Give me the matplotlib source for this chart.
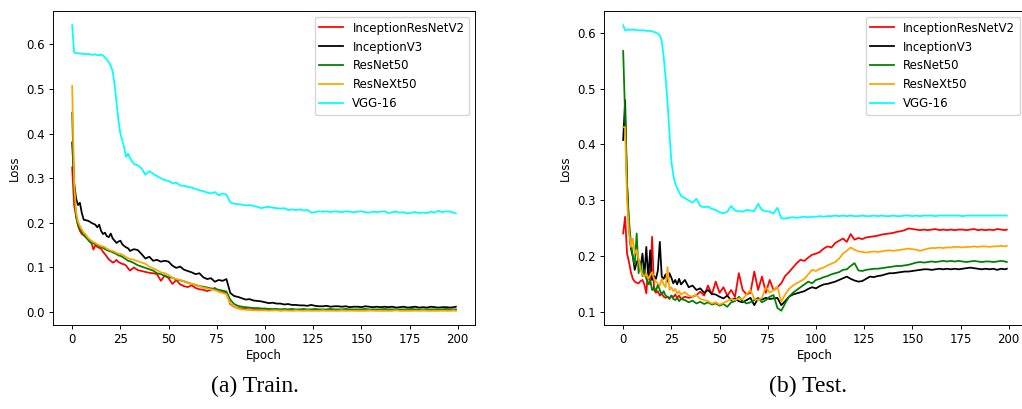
import matplotlib
matplotlib.use("Agg")
import matplotlib.pyplot as plt

# epoch index of each stored value: every epoch up to 29, then every 2nd epoch
epochs = list(range(30)) + list(range(30, 200, 2)) + [199]

names = ["InceptionResNetV2", "InceptionV3", "ResNet50", "ResNeXt50", "VGG-16"]
colors = ["red", "black", "green", "orange", "cyan"]

# ---- train loss ----
train_irv2 = [0.324, 0.240, 0.215, 0.195, 0.182, 0.175, 0.172, 0.168, 0.165, 0.160,
              0.155, 0.140, 0.150, 0.146, 0.144, 0.142, 0.135, 0.130, 0.124, 0.118,
              0.115, 0.111, 0.113, 0.117, 0.112, 0.110, 0.108, 0.107, 0.104, 0.098,
              0.093, 0.100, 0.094, 0.092, 0.090, 0.088, 0.087, 0.085, 0.070, 0.082,
              0.076, 0.063, 0.072, 0.062, 0.058, 0.056, 0.060, 0.054, 0.051, 0.050,
              0.047, 0.050, 0.054, 0.046, 0.045, 0.043, 0.018, 0.012, 0.009, 0.008,
              0.007, 0.006, 0.006, 0.005, 0.005, 0.005, 0.005, 0.004, 0.005, 0.004,
              0.004, 0.005, 0.004, 0.004, 0.005, 0.004, 0.004, 0.004, 0.005, 0.004,
              0.004, 0.004, 0.005, 0.004, 0.004, 0.004, 0.004, 0.005, 0.004, 0.004,
              0.004, 0.004, 0.004, 0.005, 0.004, 0.004, 0.004, 0.004, 0.004, 0.005,
              0.004, 0.004, 0.004, 0.004, 0.005, 0.004, 0.004, 0.004, 0.004, 0.004,
              0.004, 0.005, 0.004, 0.004, 0.004, 0.004]
train_iv3 = [0.380, 0.290, 0.255, 0.240, 0.245, 0.222, 0.207, 0.206, 0.205, 0.203,
             0.200, 0.198, 0.196, 0.190, 0.196, 0.182, 0.175, 0.178, 0.170, 0.168,
             0.176, 0.165, 0.160, 0.155, 0.158, 0.160, 0.152, 0.148, 0.145, 0.143,
             0.137, 0.141, 0.139, 0.130, 0.120, 0.124, 0.115, 0.117, 0.113, 0.115,
             0.113, 0.104, 0.099, 0.102, 0.095, 0.092, 0.089, 0.085, 0.087, 0.078,
             0.074, 0.076, 0.068, 0.072, 0.070, 0.074, 0.043, 0.036, 0.034, 0.031,
             0.028, 0.029, 0.026, 0.025, 0.024, 0.022, 0.020, 0.021, 0.019, 0.019,
             0.017, 0.018, 0.016, 0.016, 0.015, 0.015, 0.014, 0.016, 0.014, 0.013,
             0.013, 0.014, 0.012, 0.013, 0.013, 0.012, 0.013, 0.011, 0.012, 0.012,
             0.011, 0.013, 0.012, 0.011, 0.012, 0.011, 0.012, 0.011, 0.012, 0.010,
             0.011, 0.012, 0.010, 0.011, 0.012, 0.010, 0.011, 0.010, 0.012, 0.011,
             0.010, 0.011, 0.011, 0.010, 0.011, 0.012]
train_r50 = [0.447, 0.270, 0.215, 0.195, 0.186, 0.180, 0.174, 0.168, 0.163, 0.158,
             0.155, 0.154, 0.152, 0.150, 0.148, 0.146, 0.144, 0.141, 0.139, 0.137,
             0.136, 0.134, 0.132, 0.130, 0.127, 0.126, 0.124, 0.121, 0.118, 0.115,
             0.114, 0.110, 0.105, 0.102, 0.099, 0.096, 0.093, 0.087, 0.085, 0.081,
             0.078, 0.077, 0.073, 0.071, 0.069, 0.066, 0.063, 0.061, 0.058, 0.057,
             0.055, 0.053, 0.052, 0.050, 0.048, 0.046, 0.028, 0.018, 0.014, 0.012,
             0.011, 0.010, 0.009, 0.009, 0.008, 0.008, 0.007, 0.007, 0.007, 0.006,
             0.007, 0.006, 0.007, 0.006, 0.006, 0.007, 0.006, 0.006, 0.007, 0.006,
             0.006, 0.006, 0.007, 0.006, 0.006, 0.006, 0.007, 0.006, 0.006, 0.006,
             0.006, 0.007, 0.006, 0.006, 0.006, 0.006, 0.007, 0.006, 0.006, 0.006,
             0.006, 0.006, 0.006, 0.007, 0.006, 0.006, 0.006, 0.006, 0.006, 0.006,
             0.006, 0.006, 0.007, 0.006, 0.006, 0.006]
train_rx50 = [0.507, 0.290, 0.225, 0.203, 0.193, 0.185, 0.178, 0.174, 0.168, 0.163,
              0.160, 0.157, 0.155, 0.152, 0.150, 0.148, 0.147, 0.145, 0.142, 0.140,
              0.138, 0.137, 0.135, 0.133, 0.131, 0.130, 0.129, 0.126, 0.123, 0.121,
              0.119, 0.117, 0.114, 0.111, 0.108, 0.102, 0.098, 0.094, 0.089, 0.087,
              0.083, 0.077, 0.074, 0.072, 0.069, 0.066, 0.063, 0.061, 0.058, 0.055,
              0.053, 0.051, 0.049, 0.046, 0.043, 0.040, 0.020, 0.012, 0.008, 0.006,
              0.005, 0.005, 0.004, 0.004, 0.004, 0.004, 0.003, 0.004, 0.004, 0.003,
              0.004, 0.003, 0.003, 0.004, 0.003, 0.003, 0.004, 0.003, 0.003, 0.003,
              0.004, 0.003, 0.003, 0.003, 0.003, 0.004, 0.003, 0.003, 0.003, 0.003,
              0.003, 0.003, 0.004, 0.003, 0.003, 0.003, 0.003, 0.003, 0.003, 0.004,
              0.003, 0.003, 0.003, 0.003, 0.003, 0.003, 0.004, 0.003, 0.003, 0.003,
              0.003, 0.003, 0.003, 0.003, 0.004, 0.003]
train_vgg = [0.643, 0.582, 0.581, 0.580, 0.580, 0.579, 0.579, 0.578, 0.579, 0.578,
             0.577, 0.577, 0.578, 0.576, 0.576, 0.577, 0.575, 0.571, 0.566, 0.560,
             0.552, 0.540, 0.510, 0.470, 0.430, 0.400, 0.385, 0.368, 0.348, 0.355,
             0.345, 0.332, 0.329, 0.322, 0.308, 0.316, 0.310, 0.305, 0.300, 0.296,
             0.294, 0.289, 0.290, 0.284, 0.283, 0.281, 0.279, 0.276, 0.273, 0.271,
             0.268, 0.266, 0.269, 0.262, 0.266, 0.263, 0.246, 0.243, 0.242, 0.241,
             0.239, 0.240, 0.238, 0.236, 0.233, 0.235, 0.236, 0.234, 0.233, 0.232,
             0.233, 0.229, 0.230, 0.229, 0.230, 0.228, 0.229, 0.223, 0.224, 0.226,
             0.225, 0.226, 0.224, 0.226, 0.225, 0.224, 0.226, 0.225, 0.224, 0.225,
             0.226, 0.224, 0.223, 0.225, 0.224, 0.225, 0.226, 0.222, 0.224, 0.225,
             0.223, 0.224, 0.221, 0.223, 0.224, 0.222, 0.223, 0.222, 0.225, 0.223,
             0.227, 0.224, 0.226, 0.225, 0.223, 0.221]

# ---- test loss ----
test_irv2 = [0.241, 0.271, 0.205, 0.190, 0.172, 0.160, 0.155, 0.153, 0.152, 0.156,
             0.158, 0.150, 0.134, 0.181, 0.150, 0.235, 0.140, 0.135, 0.138, 0.130,
             0.134, 0.128, 0.126, 0.128, 0.124, 0.130, 0.127, 0.132, 0.126, 0.130,
             0.124, 0.128, 0.126, 0.128, 0.131, 0.137, 0.130, 0.148, 0.132, 0.155,
             0.135, 0.145, 0.130, 0.140, 0.128, 0.170, 0.140, 0.132, 0.135, 0.173,
             0.140, 0.164, 0.135, 0.158, 0.140, 0.145, 0.152, 0.165, 0.172, 0.180,
             0.188, 0.194, 0.192, 0.198, 0.203, 0.205, 0.208, 0.214, 0.218, 0.216,
             0.224, 0.228, 0.232, 0.226, 0.240, 0.230, 0.233, 0.231, 0.234, 0.235,
             0.236, 0.237, 0.239, 0.240, 0.241, 0.242, 0.244, 0.245, 0.247, 0.250,
             0.249, 0.248, 0.247, 0.248, 0.247, 0.248, 0.249, 0.247, 0.248, 0.247,
             0.248, 0.247, 0.248, 0.248, 0.247, 0.248, 0.249, 0.247, 0.248, 0.247,
             0.248, 0.247, 0.249, 0.248, 0.247, 0.248]
test_iv3 = [0.408, 0.479, 0.330, 0.250, 0.215, 0.200, 0.176, 0.190, 0.194, 0.180,
            0.205, 0.165, 0.217, 0.160, 0.211, 0.158, 0.165, 0.160, 0.175, 0.226,
            0.164, 0.160, 0.168, 0.155, 0.170, 0.162, 0.152, 0.158, 0.150, 0.160,
            0.150, 0.158, 0.145, 0.148, 0.140, 0.143, 0.135, 0.140, 0.133, 0.132,
            0.128, 0.125, 0.130, 0.122, 0.125, 0.120, 0.118, 0.122, 0.126, 0.113,
            0.125, 0.123, 0.126, 0.124, 0.125, 0.126, 0.113, 0.120, 0.128, 0.132,
            0.134, 0.136, 0.138, 0.142, 0.145, 0.143, 0.147, 0.150, 0.151, 0.153,
            0.155, 0.158, 0.161, 0.164, 0.160, 0.157, 0.155, 0.156, 0.160, 0.164,
            0.163, 0.165, 0.166, 0.168, 0.170, 0.170, 0.171, 0.172, 0.173, 0.173,
            0.174, 0.175, 0.176, 0.177, 0.177, 0.176, 0.177, 0.178, 0.177, 0.178,
            0.177, 0.178, 0.177, 0.178, 0.179, 0.180, 0.179, 0.178, 0.177, 0.178,
            0.177, 0.178, 0.176, 0.178, 0.177, 0.178]
test_r50 = [0.567, 0.450, 0.330, 0.265, 0.225, 0.200, 0.185, 0.241, 0.170, 0.190,
            0.165, 0.176, 0.160, 0.150, 0.158, 0.140, 0.145, 0.138, 0.150, 0.140,
            0.132, 0.138, 0.130, 0.128, 0.125, 0.130, 0.124, 0.122, 0.126, 0.120,
            0.124, 0.122, 0.118, 0.121, 0.116, 0.119, 0.115, 0.118, 0.114, 0.116,
            0.112, 0.115, 0.110, 0.118, 0.120, 0.128, 0.120, 0.116, 0.118, 0.122,
            0.126, 0.118, 0.122, 0.128, 0.131, 0.108, 0.103, 0.116, 0.128, 0.135,
            0.140, 0.145, 0.150, 0.155, 0.152, 0.158, 0.160, 0.163, 0.165, 0.168,
            0.170, 0.172, 0.176, 0.177, 0.183, 0.188, 0.175, 0.174, 0.176, 0.177,
            0.178, 0.178, 0.179, 0.180, 0.181, 0.182, 0.183, 0.183, 0.184, 0.185,
            0.187, 0.189, 0.190, 0.189, 0.190, 0.191, 0.190, 0.191, 0.192, 0.191,
            0.192, 0.191, 0.192, 0.191, 0.190, 0.191, 0.192, 0.191, 0.190, 0.191,
            0.191, 0.190, 0.191, 0.192, 0.191, 0.190]
test_rx50 = [0.431, 0.431, 0.300, 0.245, 0.217, 0.232, 0.205, 0.212, 0.195, 0.176,
             0.168, 0.164, 0.170, 0.160, 0.166, 0.172, 0.160, 0.155, 0.152, 0.148,
             0.160, 0.150, 0.145, 0.181, 0.140, 0.145, 0.138, 0.142, 0.134, 0.138,
             0.132, 0.136, 0.130, 0.128, 0.131, 0.124, 0.122, 0.120, 0.116, 0.118,
             0.114, 0.117, 0.120, 0.124, 0.122, 0.125, 0.124, 0.132, 0.140, 0.124,
             0.122, 0.126, 0.146, 0.135, 0.140, 0.146, 0.119, 0.132, 0.142, 0.148,
             0.152, 0.156, 0.160, 0.168, 0.176, 0.174, 0.178, 0.180, 0.184, 0.187,
             0.190, 0.196, 0.205, 0.210, 0.216, 0.212, 0.209, 0.208, 0.207, 0.208,
             0.209, 0.208, 0.209, 0.210, 0.211, 0.210, 0.211, 0.212, 0.213, 0.214,
             0.213, 0.212, 0.210, 0.212, 0.214, 0.215, 0.215, 0.216, 0.215, 0.216,
             0.216, 0.217, 0.217, 0.216, 0.217, 0.217, 0.218, 0.217, 0.218, 0.218,
             0.217, 0.218, 0.218, 0.219, 0.218, 0.219]
test_vgg = [0.613, 0.604, 0.605, 0.605, 0.605, 0.605, 0.605, 0.604, 0.604, 0.604,
            0.604, 0.604, 0.603, 0.603, 0.603, 0.602, 0.601, 0.600, 0.598, 0.595,
            0.585, 0.556, 0.520, 0.475, 0.420, 0.370, 0.345, 0.330, 0.322, 0.315,
            0.308, 0.304, 0.300, 0.296, 0.303, 0.290, 0.288, 0.289, 0.285, 0.283,
            0.279, 0.277, 0.280, 0.290, 0.282, 0.281, 0.280, 0.283, 0.282, 0.281,
            0.294, 0.283, 0.281, 0.280, 0.277, 0.287, 0.268, 0.268, 0.269, 0.270,
            0.269, 0.270, 0.271, 0.270, 0.271, 0.271, 0.272, 0.271, 0.272, 0.272,
            0.273, 0.272, 0.273, 0.272, 0.273, 0.272, 0.272, 0.273, 0.272, 0.272,
            0.273, 0.272, 0.273, 0.272, 0.272, 0.273, 0.272, 0.272, 0.273, 0.273,
            0.272, 0.273, 0.272, 0.273, 0.273, 0.273, 0.272, 0.273, 0.273, 0.273,
            0.273, 0.273, 0.273, 0.272, 0.273, 0.273, 0.273, 0.273, 0.273, 0.273,
            0.273, 0.273, 0.273, 0.273, 0.273, 0.273]

train = [train_irv2, train_iv3, train_r50, train_rx50, train_vgg]
test = [test_irv2, test_iv3, test_r50, test_rx50, test_vgg]

s = 0.85  # the original figure was scaled down in the paper
plt.rcParams.update({
    "font.size": 10 * s,
    "axes.linewidth": 0.8 * s,
    "xtick.major.width": 0.8 * s,
    "ytick.major.width": 0.8 * s,
    "xtick.major.size": 3.5 * s,
    "ytick.major.size": 3.5 * s,
    "xtick.major.pad": 3.5 * s,
    "ytick.major.pad": 3.5 * s,
    "lines.linewidth": 1.5 * s,
})

fig = plt.figure(figsize=(10.22, 4.09), dpi=100)
ax1 = fig.add_axes([53 / 1022, 1 - 325 / 409, 422 / 1022, 314 / 409])
ax2 = fig.add_axes([604 / 1022, 1 - 325 / 409, 422 / 1022, 314 / 409])

for ax, data in [(ax1, train), (ax2, test)]:
    for name, col, vals in zip(names, colors, data):
        ax.plot(epochs, vals, color=col, label=name)
    ax.set_xticks([0, 25, 50, 75, 100, 125, 150, 175, 200])
    ax.set_xlabel("Epoch", labelpad=2)
    ax.set_ylabel("Loss")
    ax.legend(loc="upper right")

serif = ["Liberation Serif", "DejaVu Serif"]
fig.text(255 / 1022, 1 - 386 / 409, "(a) Train.", ha="center", va="center",
         fontsize=17, family=serif)
fig.text(808 / 1022, 1 - 386 / 409, "(b) Test.", ha="center", va="center",
         fontsize=17, family=serif)

fig.savefig("out.png", dpi=100)
